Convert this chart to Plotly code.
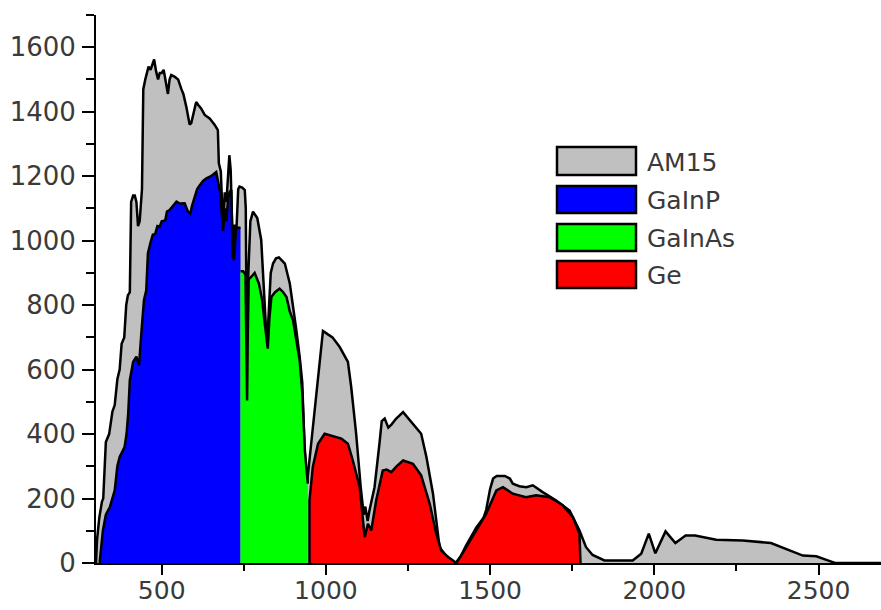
import plotly.graph_objects as go

# ---------------- data ----------------
am15_x = [300, 303, 310, 318, 322, 330, 340, 350, 357, 365, 372, 378, 386, 392, 397, 403,
          407, 413, 418, 423, 428, 433, 440, 444, 450, 455, 460, 466, 471, 477, 483, 489,
          494, 500, 506, 512, 519, 524, 529, 540, 550, 560, 566, 575, 585, 590, 597, 605,
          612, 620, 631, 646, 661, 671, 674, 680, 687, 692, 697, 702, 706, 710, 714, 717,
          722, 727, 733, 737, 745, 753, 756, 758, 760, 763, 770, 778, 791, 803, 808, 813,
          817, 821, 825, 832, 839, 848, 857, 866, 875, 890, 900, 910, 920, 928, 935, 943,
          950, 960, 975, 991, 1005, 1020, 1042, 1067, 1077, 1092, 1106, 1115, 1120, 1127,
          1133, 1140, 1148, 1163, 1170, 1179, 1190, 1200, 1214, 1235, 1250, 1265, 1290,
          1306, 1326, 1346, 1360, 1380, 1395, 1410, 1427, 1458, 1480, 1488, 1500, 1509,
          1520, 1545, 1560, 1569, 1589, 1610, 1630, 1660, 1701, 1742, 1772, 1792, 1812,
          1848, 1934, 1960, 1983, 2003, 2034, 2064, 2095, 2124, 2188, 2269, 2355, 2452,
          2493, 2528, 2550, 2690]
am15_y = [0, 70, 140, 190, 200, 375, 400, 470, 490, 570, 600, 680, 700, 800, 830, 840,
          1120, 1140, 1140, 1120, 1045, 1060, 1160, 1470, 1500, 1525, 1540, 1530, 1545, 1562, 1525, 1500,
          1520, 1520, 1530, 1500, 1455, 1500, 1514, 1508, 1500, 1470, 1455, 1415, 1360, 1365, 1400, 1430,
          1420, 1410, 1390, 1379, 1360, 1343, 1240, 1215, 1033, 1150, 1120, 1200, 1265, 1220, 1000, 955,
          1050, 1020, 1160, 1168, 1165, 1157, 1100, 898, 504, 880, 1060, 1090, 1070, 1002, 900, 815,
          700, 665, 760, 900, 929, 945, 948, 940, 929, 867, 800, 722, 640, 560, 350, 250,
          320, 420, 570, 720, 710, 700, 670, 624, 546, 401, 235, 150, 175, 130,
          165, 200, 235, 370, 440, 448, 420, 430, 448, 468, 450, 432, 401,
          329, 215, 49, 30, 10, 0, 20, 55, 110, 140, 165, 230, 262,
          270, 270, 262, 246, 238, 235, 241, 220, 194, 163, 101, 49, 25,
          8, 8, 29, 91, 30, 98, 62, 85, 85, 72, 70, 62, 23,
          21, 8, 0, 0]

gainp_x = [311, 321, 330, 342, 357, 365, 372, 387, 393, 398, 403, 413, 423, 428, 431, 438,
           446, 453, 458, 465, 473, 480, 487, 494, 500, 511, 516, 524, 535, 545, 555, 570,
           580, 587, 593, 600, 608, 616, 626, 636, 650, 666, 672, 678, 687, 692, 697, 702,
           707, 712, 716, 720, 727, 733, 740]
gainp_y = [0, 101, 150, 173, 225, 300, 329, 360, 400, 463, 567, 624, 640, 620, 613, 712,
           815, 846, 960, 990, 1019, 1020, 1045, 1043, 1060, 1063, 1090, 1095, 1110, 1121, 1115, 1116,
           1090, 1084, 1110, 1136, 1160, 1172, 1185, 1193, 1200, 1213, 1180, 1150, 1030, 1100, 1060, 1130,
           1152, 1157, 950, 940, 1043, 1040, 1040]

gainas_x = [740, 748, 755, 758, 760, 762, 765, 773, 783, 796, 806, 813, 819, 823, 828, 834,
            845, 859, 870, 880, 890, 900, 910, 920, 928, 933, 936, 941, 945]
gainas_y = [905, 905, 895, 700, 504, 700, 880, 888, 900, 867, 815, 750, 690, 665, 760, 825,
            840, 851, 840, 825, 780, 753, 691, 629, 530, 420, 349, 290, 246]

ge_x = [950, 950, 960, 976, 996, 1020, 1047, 1067, 1082, 1103, 1110, 1118, 1128, 1138, 1153,
        1173, 1185, 1199, 1215, 1235, 1265, 1290, 1316, 1336, 1351, 1370, 1387, 1397, 1410,
        1427, 1458, 1488, 1519, 1539, 1569, 1609, 1640, 1681, 1721, 1752, 1772, 1775]
ge_y = [0, 194, 298, 370, 401, 393, 386, 370, 318, 235, 150, 80, 122, 101, 194,
        287, 290, 282, 300, 318, 308, 272, 184, 91, 39, 20, 8, 0, 20,
        49, 101, 153, 225, 235, 215, 204, 210, 204, 179, 142, 91, 0]

series_names = ["AM15", "GaInP", "GaInAs", "Ge"]
series_colors = ["#c0c0c0", "#0000ff", "#00ff00", "#ff0000"]

x_ticks = [500, 1000, 1500, 2000, 2500]
y_ticks = [0, 200, 400, 600, 800, 1000, 1200, 1400, 1600]

# ---------------- figure ----------------
W, H = 881, 610
L, R, T, B = 96, 0, 15, 47
PW, PH = W - L - R, H - T - B

fig = go.Figure()
for xs, ys, name, col in zip([am15_x, gainp_x, gainas_x, ge_x],
                             [am15_y, gainp_y, gainas_y, ge_y],
                             series_names, series_colors):
    fig.add_trace(go.Scatter(x=xs, y=ys, name=name, mode="lines", fill="tozeroy",
                             fillcolor=col, line=dict(color="black", width=2.5),
                             showlegend=False, hoverinfo="x+y+name"))

font_family = "DejaVu Sans"
text_color = "#3a3a3a"

def px2paper_x(px):
    return (px - L) / PW

def px2paper_y(py):
    return (H - B - py) / PH

# hand-made legend (boxes + labels)
legend_rows = [(147, 175), (186, 213), (224, 251), (261, 288)]
shapes = []
annotations = []
for (top, bot), name, col in zip(legend_rows, series_names, series_colors):
    shapes.append(dict(type="rect", xref="paper", yref="paper",
                       x0=px2paper_x(557), x1=px2paper_x(636),
                       y0=px2paper_y(bot), y1=px2paper_y(top),
                       fillcolor=col, line=dict(color="black", width=2.5)))
    annotations.append(dict(text=name, xref="paper", yref="paper",
                            x=px2paper_x(645), y=px2paper_y((top + bot) / 2 + 1),
                            xanchor="left", yanchor="middle", showarrow=False,
                            font=dict(family=font_family, size=25, color=text_color)))

fig.update_layout(
    width=W, height=H, autosize=False,
    margin=dict(l=L, r=R, t=T, b=B, pad=0),
    paper_bgcolor="white", plot_bgcolor="white",
    shapes=shapes, annotations=annotations,
    showlegend=False,
    xaxis=dict(range=[300, 2690], showgrid=False, zeroline=False,
               showline=True, linecolor="black", linewidth=2,
               ticks="outside", ticklen=10, tickwidth=2, tickcolor="black",
               tickvals=x_ticks, ticktext=[str(v) for v in x_ticks],
               minor=dict(ticks="outside", ticklen=6, tickwidth=2, tickcolor="black",
                          dtick=250, tick0=250),
               tickfont=dict(family=font_family, size=25, color=text_color),
               ticklabelstandoff=-6,
               automargin=False),
    yaxis=dict(range=[0, 1700], showgrid=False, zeroline=False,
               showline=True, linecolor="black", linewidth=2,
               ticks="outside", ticklen=12, tickwidth=2, tickcolor="black",
               tickvals=y_ticks, ticktext=[str(v) for v in y_ticks],
               minor=dict(ticks="outside", ticklen=8, tickwidth=2, tickcolor="black",
                          dtick=100, tick0=0),
               tickfont=dict(family=font_family, size=26, color=text_color),
               ticklabelstandoff=1,
               automargin=False),
)

fig.write_html("out.html")
